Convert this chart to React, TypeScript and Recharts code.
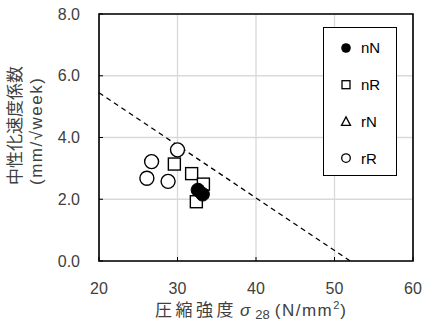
import { ScatterChart, Scatter, XAxis, YAxis, CartesianGrid, ReferenceArea, Legend } from 'recharts';

// strength σ28 (N/mm²) vs carbonation rate coefficient (mm/√week)
const nNStrength = [32.6, 33.2];
const nNRate = [2.3, 2.16];
const nRStrength = [29.6, 31.8, 33.3, 32.4];
const nRRate = [3.14, 2.83, 2.49, 1.92];
const rNStrength: number[] = [];
const rNRate: number[] = [];
const rRStrength = [30.0, 26.7, 26.1, 28.8];
const rRRate = [3.6, 3.22, 2.68, 2.58];
const limitStrength = [20, 52];
const limitRate = [5.45, 0];

const xTicks = [20, 30, 40, 50, 60];
const yTicks = [0, 2, 4, 6, 8];
const legendNames = ['nN', 'nR', 'rN', 'rR'];

const zip = (xs: number[], ys: number[]) => xs.map((x, i) => ({ x, y: ys[i] }));

const TEXT = '#404040';
const NUM_FONT = '"Liberation Sans", Arial, sans-serif';
const JP_FONT = '"Noto Sans CJK JP", "Noto Sans", sans-serif';

const FilledDot = (p: any) => <circle cx={p.cx} cy={p.cy} r={6.8} fill="#000" stroke="#000" strokeWidth={1} />;
const OpenDot = (p: any) => <circle cx={p.cx} cy={p.cy} r={7} fill="#fff" stroke="#000" strokeWidth={1.4} />;
const OpenSquare = (p: any) => <rect x={p.cx - 6} y={p.cy - 6} width={12} height={12} fill="#fff" stroke="#000" strokeWidth={1.4} />;
const OpenTriangle = (p: any) => (
  <path d={`M${p.cx},${p.cy - 6}L${p.cx + 6},${p.cy + 5}L${p.cx - 6},${p.cy + 5}Z`} fill="#fff" stroke="#000" strokeWidth={1.4} />
);

function LegendSymbol({ name, x, y }: { name: string; x: number; y: number }) {
  if (name === 'nN') return <circle cx={x} cy={y} r={4.8} fill="#000" />;
  if (name === 'nR') return <rect x={x - 4} y={y - 4} width={8} height={8} fill="#fff" stroke="#000" strokeWidth={1.3} />;
  if (name === 'rN') return <path d={`M${x},${y - 4.5}L${x + 4.5},${y + 4}L${x - 4.5},${y + 4}Z`} fill="#fff" stroke="#000" strokeWidth={1.3} />;
  return <circle cx={x} cy={y} r={4.3} fill="#fff" stroke="#000" strokeWidth={1.3} />;
}

const LegendBox = () => (
  <svg width={74} height={149} style={{ display: 'block' }}>
    {legendNames.map((name, i) => (
      <g key={name}>
        <LegendSymbol name={name} x={22} y={20 + i * 36.7} />
        <text x={37} y={20 + i * 36.7} dy="0.36em" fontSize={15} fontFamily={NUM_FONT} fill="#000">
          {name}
        </text>
      </g>
    ))}
  </svg>
);

const YTitle = () => (
  <g fill={TEXT} fontSize={17}>
    <text transform="translate(21,185) rotate(-90)" textAnchor="start" fontFamily={JP_FONT}>
      中性化速度係数
    </text>
    <text transform="translate(42,185) rotate(-90)" textAnchor="start" fontFamily={NUM_FONT} letterSpacing={1.5}>
      (mm/√week)
    </text>
  </g>
);

const XTitle = () => (
  <text x={155} y={316} fill={TEXT} fontSize={17}>
    <tspan fontFamily={JP_FONT} letterSpacing={3.5}>圧縮強度</tspan>
    <tspan fontFamily={NUM_FONT} fontStyle="italic" dx={3}>σ</tspan>
    <tspan fontFamily={NUM_FONT} fontSize={13} dx={5} dy={3}>28</tspan>
    <tspan fontFamily={NUM_FONT} dx={5} dy={-3} letterSpacing={1.5}>(N/mm</tspan>
    <tspan fontFamily={NUM_FONT} fontSize={11} dy={-7}>2</tspan>
    <tspan fontFamily={NUM_FONT} dx={1} dy={7}>)</tspan>
  </text>
);

export default function App() {
  return (
    <div style={{ position: 'absolute', left: 0, top: 0, width: 424, height: 325, background: '#fff' }}>
      <ScatterChart width={424} height={325} margin={{ top: 14, right: 11, bottom: 34, left: 19 }}>
        <CartesianGrid stroke="#d9d9d9" strokeWidth={1.3} />
        <XAxis
          type="number"
          dataKey="x"
          domain={[20, 60]}
          ticks={xTicks}
          height={30}
          axisLine={false}
          tickLine={{ stroke: '#000' }}
          tickSize={-4}
          tickMargin={26}
          tick={{ fontSize: 16, fill: TEXT, fontFamily: NUM_FONT }}
          label={{ content: () => <XTitle /> }}
        />
        <YAxis
          type="number"
          dataKey="y"
          domain={[0, 8]}
          ticks={yTicks}
          width={80}
          axisLine={false}
          tickLine={{ stroke: '#000' }}
          tickSize={-4}
          tickMargin={23}
          tickFormatter={(v: number) => v.toFixed(1)}
          tick={{ fontSize: 16, fill: TEXT, fontFamily: NUM_FONT }}
          label={{ content: () => <YTitle /> }}
        />
        <ReferenceArea x1={20} x2={60} y1={0} y2={8} fill="none" fillOpacity={0} stroke="#000" strokeWidth={1.6} />
        <Scatter
          data={zip(limitStrength, limitRate)}
          line={{ stroke: '#000', strokeWidth: 1.3, strokeDasharray: '5 4' }}
          shape={() => <g />}
          legendType="none"
          isAnimationActive={false}
        />
        <Scatter name="rR" data={zip(rRStrength, rRRate)} shape={OpenDot} isAnimationActive={false} />
        <Scatter name="nR" data={zip(nRStrength, nRRate)} shape={OpenSquare} isAnimationActive={false} />
        <Scatter name="rN" data={zip(rNStrength, rNRate)} shape={OpenTriangle} isAnimationActive={false} />
        <Scatter name="nN" data={zip(nNStrength, nNRate)} shape={FilledDot} isAnimationActive={false} />
        <Legend
          layout="horizontal"
          verticalAlign="middle"
          content={() => <LegendBox />}
          wrapperStyle={{
            left: 323,
            top: 27,
            width: 74,
            height: 149,
            border: '1.5px solid #000',
            background: '#fff',
            boxSizing: 'border-box',
          }}
        />
      </ScatterChart>
    </div>
  );
}
